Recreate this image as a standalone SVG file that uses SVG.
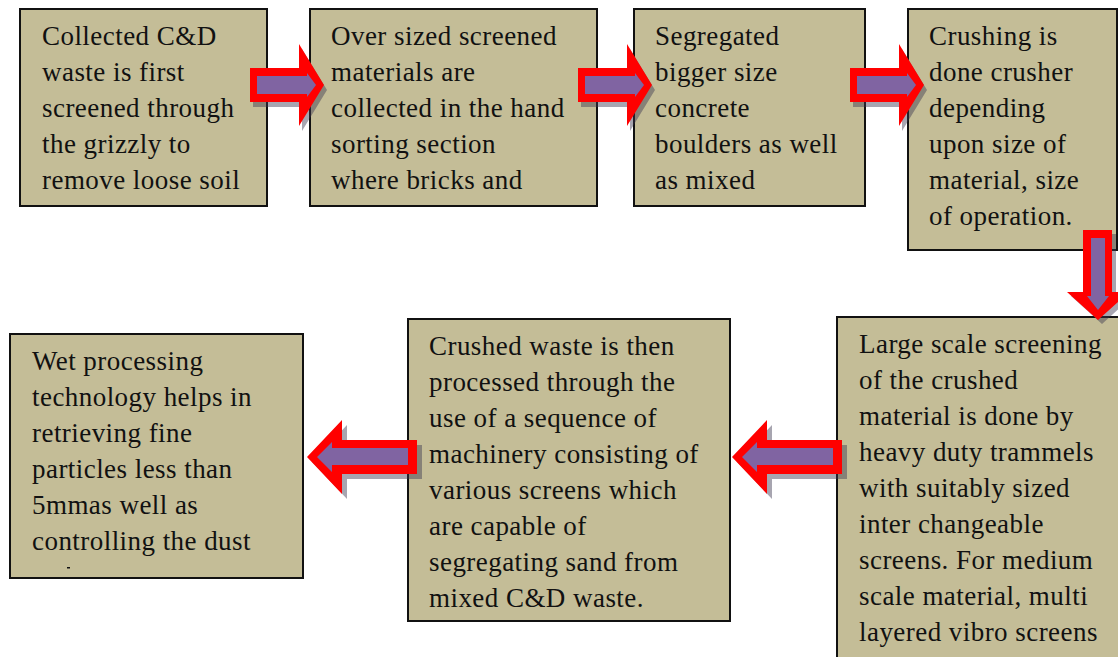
<svg xmlns="http://www.w3.org/2000/svg" width="1118" height="657" viewBox="0 0 1118 657">
<style>
.box{fill:#C4BD97;stroke:#111;stroke-width:2}
.t{font-family:"Liberation Serif","Times New Roman",serif;font-size:27px;letter-spacing:0.45px;fill:#111}
.red{fill:#FF0000}
.pur{fill:#8064A2}
.sh{fill:#3c3850;opacity:0.45}
</style>
<defs>
<g id="arR">
<polygon class="red" points="0,-17 49,-17 49,-41 74,0 49,41 49,17 0,17"/>
<polygon class="pur" points="7,-9 57,-9 57,-12 66,0 57,12 57,9 7,9"/>
</g>
<polygon id="arRs" points="0,-17 49,-17 49,-41 74,0 49,41 49,17 0,17"/>
<g id="arL">
<polygon class="red" points="0,0 35,-37 35,-17 110,-17 110,17 35,17 35,37"/>
<polygon class="pur" points="10,0 25,-15 25,-9 101,-9 101,8 25,8 25,15"/>
</g>
<polygon id="arLs" points="0,0 35,-37 35,-17 110,-17 110,17 35,17 35,37"/>
<g id="arD">
<polygon class="red" points="-15,0 14,0 14,62 31,62 0,90 -31,62 -15,62"/>
<polygon class="pur" points="-7,8 7,8 7,66 11,66 0,80 -11,66 -7,66"/>
</g>
<polygon id="arDs" points="-15,0 14,0 14,62 31,62 0,90 -31,62 -15,62"/>
</defs>

<g id="n1">
<rect class="box" x="20" y="9" width="247" height="197"/>
<text class="t" x="42" y="45">Collected C&amp;D</text>
<text class="t" x="42" y="81">waste is first</text>
<text class="t" x="42" y="117">screened through</text>
<text class="t" x="42" y="153">the grizzly to</text>
<text class="t" x="42" y="189">remove loose soil</text>
</g>
<g id="n2">
<rect class="box" x="310" y="9" width="287" height="197"/>
<text class="t" x="331" y="45">Over sized screened</text>
<text class="t" x="331" y="81">materials are</text>
<text class="t" x="331" y="117">collected in the hand</text>
<text class="t" x="331" y="153">sorting section</text>
<text class="t" x="331" y="189">where bricks and</text>
</g>
<g id="n3">
<rect class="box" x="634" y="9" width="231" height="197"/>
<text class="t" x="655" y="45">Segregated</text>
<text class="t" x="655" y="81">bigger size</text>
<text class="t" x="655" y="117">concrete</text>
<text class="t" x="655" y="153">boulders as well</text>
<text class="t" x="655" y="189">as mixed</text>
</g>
<g id="n4">
<rect class="box" x="908" y="9" width="209" height="241"/>
<text class="t" x="929" y="45">Crushing is</text>
<text class="t" x="929" y="81">done crusher</text>
<text class="t" x="929" y="117">depending</text>
<text class="t" x="929" y="153">upon size of</text>
<text class="t" x="929" y="189">material, size</text>
<text class="t" x="929" y="225">of operation.</text>
</g>
<g id="n5">
<rect class="box" x="837" y="317" width="290" height="360"/>
<text class="t" x="859" y="353">Large scale screening</text>
<text class="t" x="859" y="389">of the crushed</text>
<text class="t" x="859" y="425">material is done by</text>
<text class="t" x="859" y="461">heavy duty trammels</text>
<text class="t" x="859" y="497">with suitably sized</text>
<text class="t" x="859" y="533">inter changeable</text>
<text class="t" x="859" y="569">screens. For medium</text>
<text class="t" x="859" y="605">scale material, multi</text>
<text class="t" x="859" y="641">layered vibro screens</text>
</g>
<g id="n6">
<rect class="box" x="408" y="319" width="322" height="302"/>
<text class="t" x="429" y="355">Crushed waste is then</text>
<text class="t" x="429" y="391">processed through the</text>
<text class="t" x="429" y="427">use of a sequence of</text>
<text class="t" x="429" y="463">machinery consisting of</text>
<text class="t" x="429" y="499">various screens which</text>
<text class="t" x="429" y="535">are capable of</text>
<text class="t" x="429" y="571">segregating sand from</text>
<text class="t" x="429" y="607">mixed C&amp;D waste.</text>
</g>
<g id="n7">
<rect class="box" x="10" y="334" width="293" height="244"/>
<text class="t" x="32" y="370">Wet processing</text>
<text class="t" x="32" y="406">technology helps in</text>
<text class="t" x="32" y="442">retrieving fine</text>
<text class="t" x="32" y="478">particles less than</text>
<text class="t" x="32" y="514">5mmas well as</text>
<text class="t" x="32" y="550">controlling the dust</text>
<rect x="67" y="567" width="3" height="1.5" fill="#111"/>
</g>

<g id="connectors">
<use href="#arRs" class="sh" transform="translate(253,90)"/>
<use href="#arR" transform="translate(250,85)"/>
<use href="#arRs" class="sh" transform="translate(581,90)"/>
<use href="#arR" transform="translate(578,85)"/>
<use href="#arRs" class="sh" transform="translate(853,90)"/>
<use href="#arR" transform="translate(850,85)"/>
<use href="#arDs" class="sh" transform="translate(1102,234)"/>
<use href="#arD" transform="translate(1098,230)"/>
<use href="#arLs" class="sh" transform="translate(737,462)"/>
<use href="#arL" transform="translate(732,457)"/>
<use href="#arLs" class="sh" transform="translate(312,462)"/>
<use href="#arL" transform="translate(307,457)"/>
</g>
</svg>
